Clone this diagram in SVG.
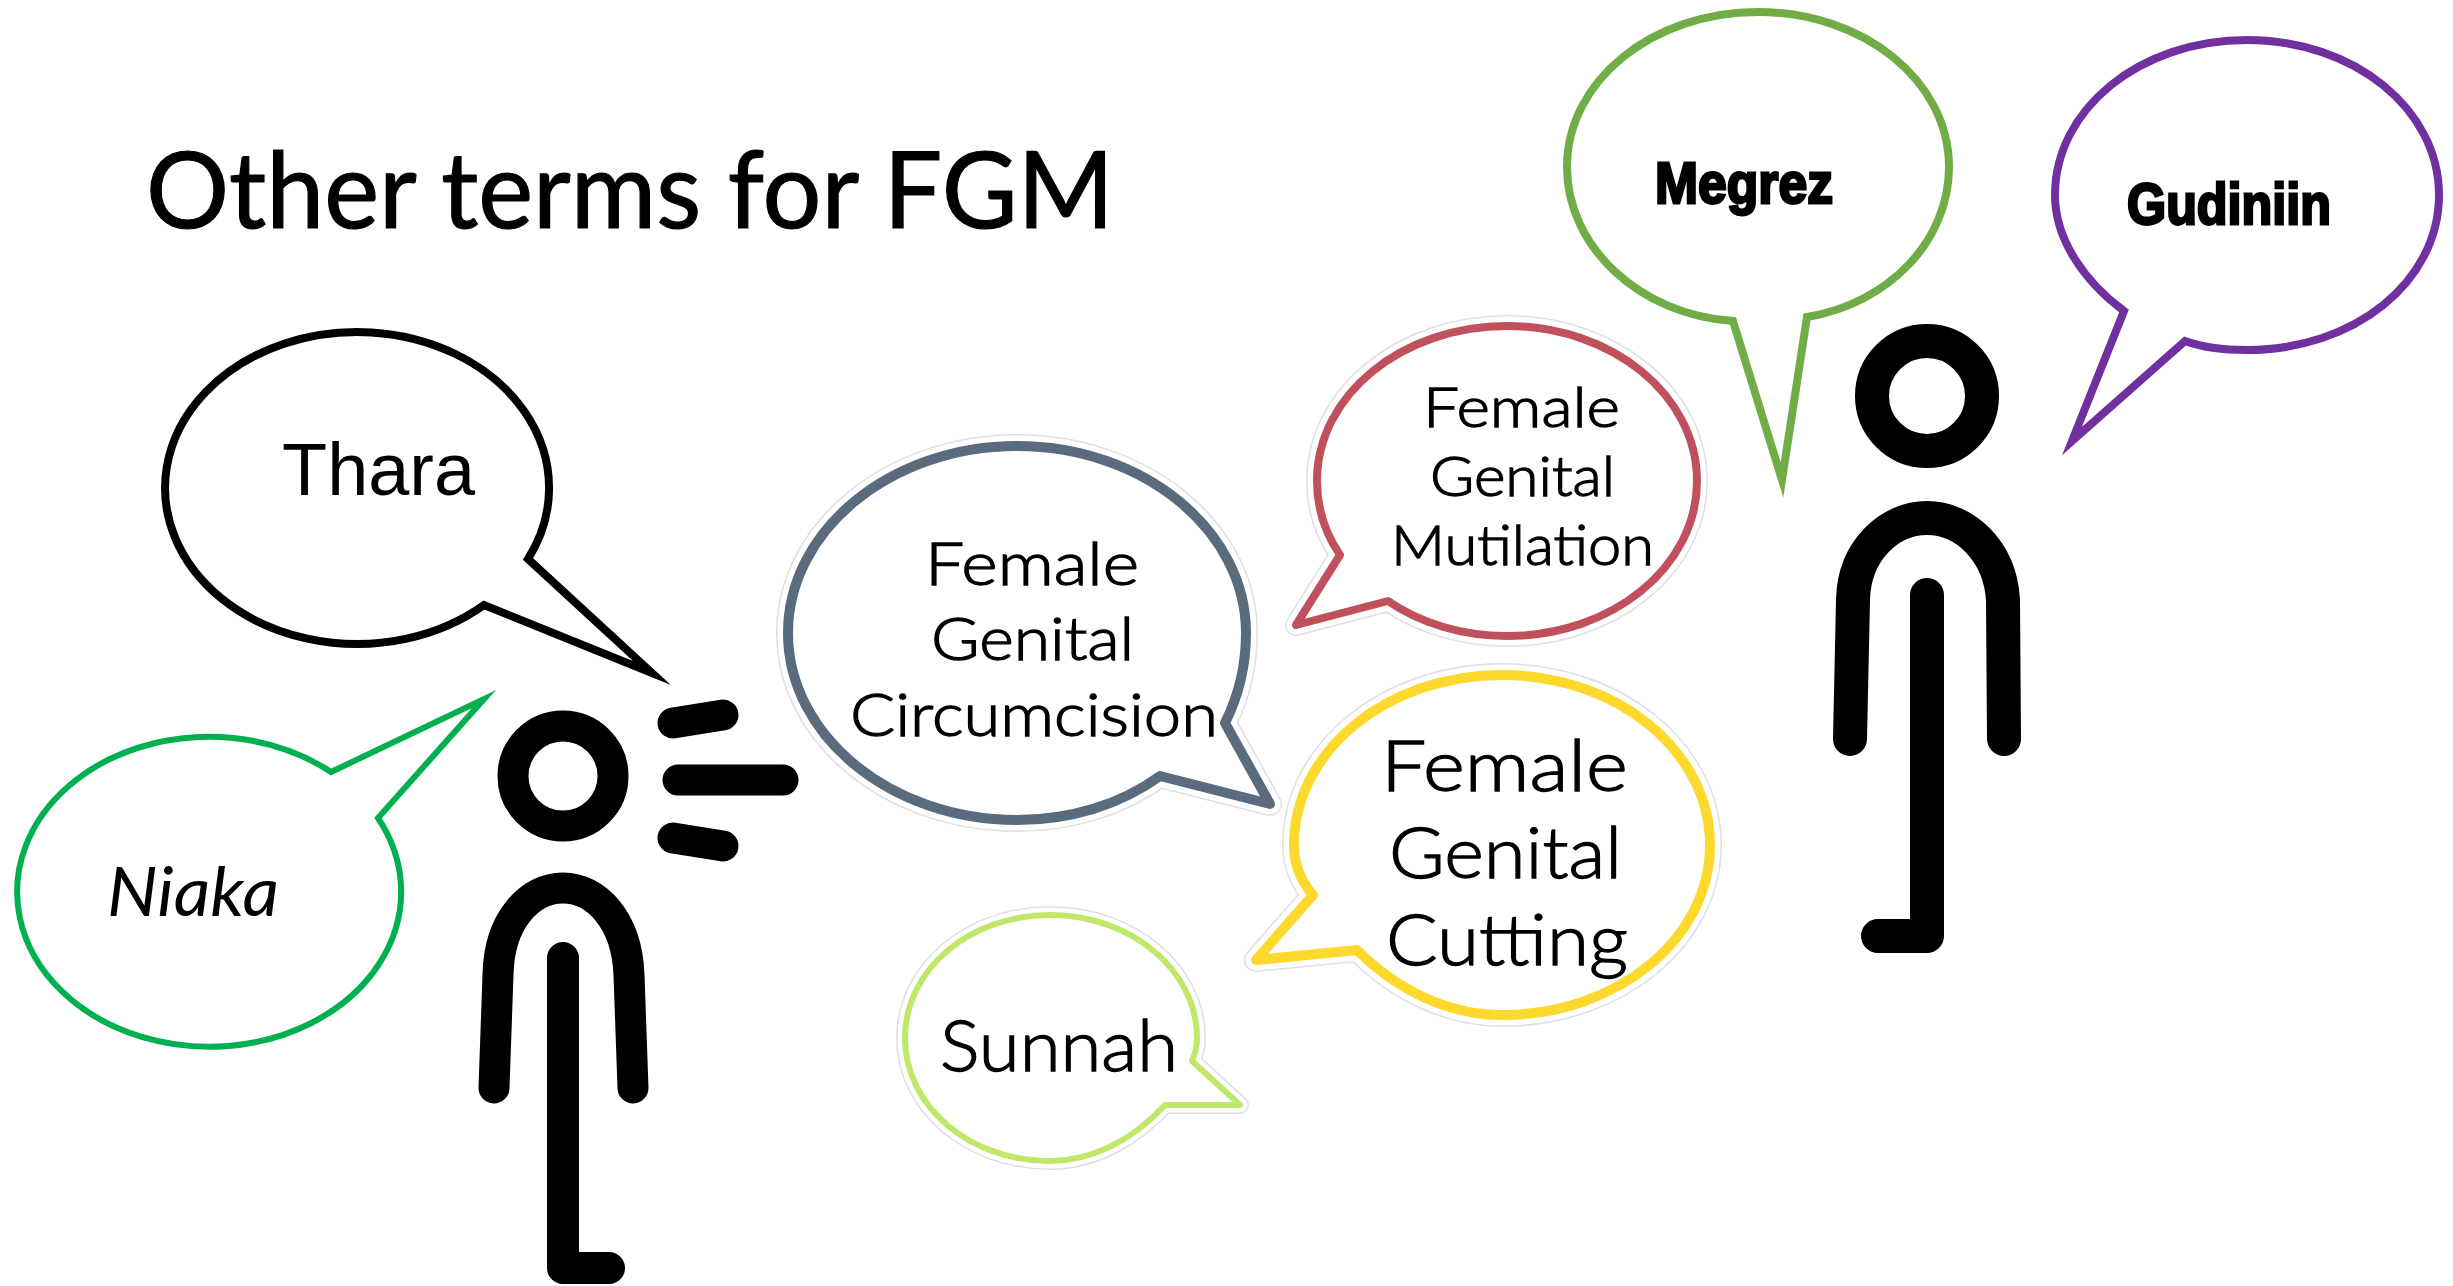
<svg xmlns="http://www.w3.org/2000/svg" xmlns:xlink="http://www.w3.org/1999/xlink" width="2453" height="1286" viewBox="0 0 2453 1286">
<style>
.b{fill:#fff;stroke-linejoin:miter;stroke-miterlimit:30}
.h{fill:#fff;stroke:#dfdfe3;stroke-linejoin:round}
.w{fill:#fff;stroke:#fff;stroke-linejoin:round}
.s{fill:#fff;stroke-linejoin:round}
.p{fill:none;stroke:#000;stroke-linecap:round;stroke-linejoin:round}
text{fill:#000}
.g{font-family:"Lato","Noto Sans",sans-serif;font-weight:300;stroke:#000;stroke-width:1.3}
.i{font-family:"Liberation Sans",sans-serif;font-weight:700;stroke:#000;stroke-width:2.8}
</style>
<defs>
<path id="pc" d="M1160 776C1120 805 1070 820 1017 820C891 820 788 736 788 633C788 530 891 446 1017 446C1143 446 1246 530 1246 633C1246 665 1238 697 1225 723L1270 804Z"/>
<path id="pm" d="M1340 555C1325 533 1317 507 1317 481C1317 395 1402 326 1507 326C1612 326 1697 395 1697 481C1697 567 1612 636 1507 636C1462 636 1420 623 1388 601L1296 625Z"/>
<path id="py" d="M1313 895C1300 880 1294 862 1294 845C1294 751 1387 675 1502 675C1617 675 1710 751 1710 845C1710 939 1617 1015 1502 1015C1448 1015 1397 990 1357 950L1256 960Z"/>
<path id="ps" d="M1165 1105C1133 1140 1092 1161 1050 1161C969 1161 905 1106 905 1038C905 970 969 915 1050 915C1131 915 1197 970 1197 1038C1197 1046 1195 1054 1192 1061L1240 1105Z"/>
</defs>
<rect width="2453" height="1286" fill="#fff"/>
<g id="title"><text x="146" y="228" font-family="Lato,'Noto Sans',sans-serif" font-size="107" stroke="#000" stroke-width="1.2" textLength="968" lengthAdjust="spacingAndGlyphs">Other terms for FGM</text></g>

<g id="person-left">
<circle cx="563" cy="776" r="50" fill="none" stroke="#000" stroke-width="31"/>
<path class="p" stroke-width="31" d="M494 1088L498 975C499 920 530 888 563 888C596 888 627 920 629 975L633 1088"/>
<path class="p" stroke-width="32" d="M563 958V1268H609"/>
<path class="p" stroke-width="31" d="M673 723L723 715"/>
<path class="p" stroke-width="31" d="M678 780H783"/>
<path class="p" stroke-width="31" d="M673 838L723 846"/>
</g>
<g id="person-right">
<circle cx="1927" cy="396" r="55" fill="none" stroke="#000" stroke-width="34"/>
<path class="p" stroke-width="34" d="M1850 739L1853 600C1854 550 1890 518 1927 518C1964 518 2000 550 2003 600L2004 739"/>
<path class="p" stroke-width="34" d="M1927 595V936H1878"/>
</g>

<g id="bubble-thara">
<path class="b" stroke="#000" stroke-width="8" d="M484 605A192 156 0 1 1 528 559L652 673Z"/>
<text x="282" y="495" font-family="'Liberation Sans',sans-serif" font-size="74" textLength="193" lengthAdjust="spacingAndGlyphs">Thara</text>
</g>
<g id="bubble-niaka">
<path class="b" stroke="#00b050" stroke-width="6" d="M378 818A192 155 0 1 1 331 772L484 699Z"/>
<text x="107" y="916" font-family="Lato,'Noto Sans',sans-serif" font-style="italic" font-size="68" textLength="172" lengthAdjust="spacingAndGlyphs">Niaka</text>
</g>
<g id="bubble-circumcision">
<use href="#pc" class="h" stroke-width="24"/>
<use href="#pc" class="w" stroke-width="21"/>
<use href="#pc" class="s" stroke="#5a6b7d" stroke-width="10"/>
<text class="g" x="925" y="585" font-size="60" textLength="214" lengthAdjust="spacingAndGlyphs">Female</text>
<text class="g" x="931" y="660" font-size="60" textLength="203" lengthAdjust="spacingAndGlyphs">Genital</text>
<text class="g" x="850" y="736" font-size="60" textLength="368" lengthAdjust="spacingAndGlyphs">Circumcision</text>
</g>
<g id="bubble-mutilation">
<use href="#pm" class="h" stroke-width="22"/>
<use href="#pm" class="w" stroke-width="19"/>
<use href="#pm" class="s" stroke="#c0505c" stroke-width="8"/>
<text class="g" x="1423" y="427" font-size="56" textLength="197" lengthAdjust="spacingAndGlyphs">Female</text>
<text class="g" x="1430" y="496" font-size="56" textLength="185" lengthAdjust="spacingAndGlyphs">Genital</text>
<text class="g" x="1391" y="565" font-size="56" textLength="263" lengthAdjust="spacingAndGlyphs">Mutilation</text>
</g>
<g id="bubble-cutting">
<use href="#py" class="h" stroke-width="24"/>
<use href="#py" class="w" stroke-width="21"/>
<use href="#py" class="s" stroke="#fdd92e" stroke-width="10"/>
<text class="g" x="1381" y="791" font-size="70" textLength="247" lengthAdjust="spacingAndGlyphs">Female</text>
<text class="g" x="1389" y="878" font-size="70" textLength="233" lengthAdjust="spacingAndGlyphs">Genital</text>
<text class="g" x="1386" y="965" font-size="70" textLength="242" lengthAdjust="spacingAndGlyphs">Cutting</text>
</g>
<g id="bubble-sunnah">
<use href="#ps" class="h" stroke-width="18"/>
<use href="#ps" class="w" stroke-width="15"/>
<use href="#ps" class="s" stroke="#bfe86a" stroke-width="6"/>
<text class="g" x="940" y="1071" font-size="70" textLength="238" lengthAdjust="spacingAndGlyphs">Sunnah</text>
</g>
<g id="bubble-megrez">
<path class="b" stroke="#70ad47" stroke-width="8" d="M1733 321C1640 315 1567 247 1567 167C1567 81 1652 12 1758 12C1864 12 1949 81 1949 167C1949 240 1890 303 1807 317L1782 480Z"/>
<text class="i" x="1655" y="203" font-size="58" textLength="178" lengthAdjust="spacingAndGlyphs">Megrez</text>
</g>
<g id="bubble-gudiniin">
<path class="b" stroke="#7030a0" stroke-width="8" d="M2124 311C2085 282 2055 240 2055 195C2055 109 2140 40 2247 40C2354 40 2439 109 2439 195C2439 282 2354 350 2247 350C2225 350 2204 348 2185 341L2072 441Z"/>
<text class="i" x="2127" y="224" font-size="58" textLength="204" lengthAdjust="spacingAndGlyphs">Gudiniin</text>
</g>
</svg>
